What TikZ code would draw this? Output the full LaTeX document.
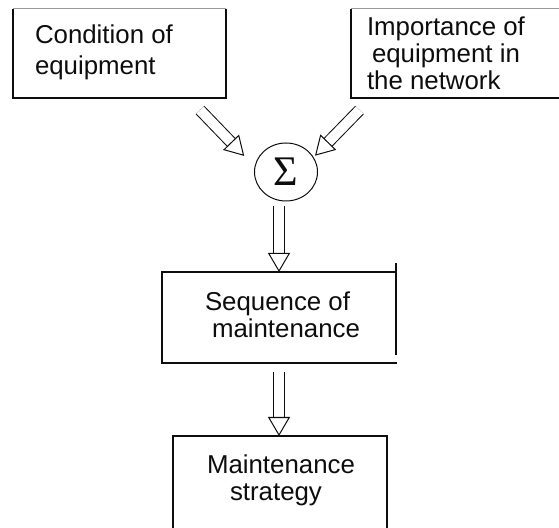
\documentclass[tikz,border=0pt]{standalone}
\usepackage{fontspec}
\setmainfont{Liberation Sans}
\newfontfamily\sumfont{Liberation Serif}
\usetikzlibrary{arrows.meta,shapes.geometric}
\definecolor{ChartInk}{gray}{0.05}
\definecolor{ChartRule}{gray}{0.6}
\tikzset{
    chart/diagram/.style={
        font=\fontsize{14.7}{15.4}\selectfont,
        text=ChartInk,
        every node/.style={inner sep=0pt, outer sep=0pt}
    },
    chart/box/.style={rectangle, draw=none},
    chart/edge/.style={draw=ChartInk, line width=0.04cm},
    chart/rule/.style={draw=ChartRule, line width=0.02cm},
    chart/text/.style={anchor=north west, align=left},
    chart/sum/.style={
        ellipse, draw=ChartInk, line width=0.02cm,
        minimum width=1.26cm, minimum height=1.16cm,
        font=\sumfont\fontsize{24}{24}\selectfont
    },
    chart/feed/.style={
        draw=ChartInk, line width=0.02cm,
        double=white, double distance=0.2cm,
        -{Triangle[open, length=0.38cm, width=0.44cm, line width=0.02cm, fill=white]}
    }
}
\begin{document}
\begin{tikzpicture}[chart/diagram]
    \useasboundingbox (0,0) rectangle (11.18,10.54);
    \clip (0,0) rectangle (11.18,10.54);
    % input boxes
    \node[chart/box, minimum width=4.26cm, minimum height=1.78cm] (cond) at (2.39,9.47) {};
    \node[chart/box, minimum width=4.38cm, minimum height=1.78cm] (impt) at (9.21,9.47) {};
    \node[chart/text] (condtext) at (0.70,10.04) {Condition of\\[0.07cm]equipment};
    \node[chart/text] (impttext) at (7.34,10.20)
        {Importance of\\\hspace*{0.1cm}equipment in\\the network};
    \draw[chart/rule] (cond.north west) -- (cond.north east);
    \draw[chart/edge] (cond.north east) -- (cond.south east) -- (cond.south west) -- (cond.north west);
    \draw[chart/rule] (impt.north west) -- (impt.north east);
    \draw[chart/edge] (impt.north west) -- (impt.south west) -- (impt.south east);
    % summing point
    \node[chart/sum] (sigma) at (5.72,7.10) {Σ};
    \coordinate (condout) at (4.00,8.34);
    \coordinate (imptout) at (7.19,8.34);
    \draw[chart/feed, shorten >=0.31cm] (condout) -- (sigma.171);
    \draw[chart/feed, shorten >=0.05cm] (imptout) -- (sigma.28);
    % sequence box
    \node[chart/box, minimum width=4.68cm, minimum height=1.82cm] (seq) at (5.58,4.19) {};
    \node[chart/text] (seqtext) at (4.10,4.71) {Sequence of\\\hspace*{0.14cm}maintenance};
    \draw[chart/edge] (seq.north east) -- (seq.north west) -- (seq.south west) -- ([xshift=0.02cm]seq.south east);
    \draw[chart/edge] ([yshift=0.18cm]seq.north east) -- ([yshift=0.16cm]seq.south east);
    \draw[chart/feed, shorten <=0.1cm] (sigma.south -| seq.north) -- (seq.north);
    % strategy box
    \node[chart/box, minimum width=4.28cm, minimum height=2.08cm] (strat) at (5.60,0.78) {};
    \node[chart/text] (strattext) at (4.14,1.44) {Maintenance\\\hspace*{0.46cm}strategy};
    \draw[chart/edge] (strat.south west) -- (strat.north west) -- (strat.north east) -- (strat.south east);
    \draw[chart/feed, shorten <=0.18cm] (seq.south) -- (seq.south |- strat.north);
\end{tikzpicture}
\end{document}
